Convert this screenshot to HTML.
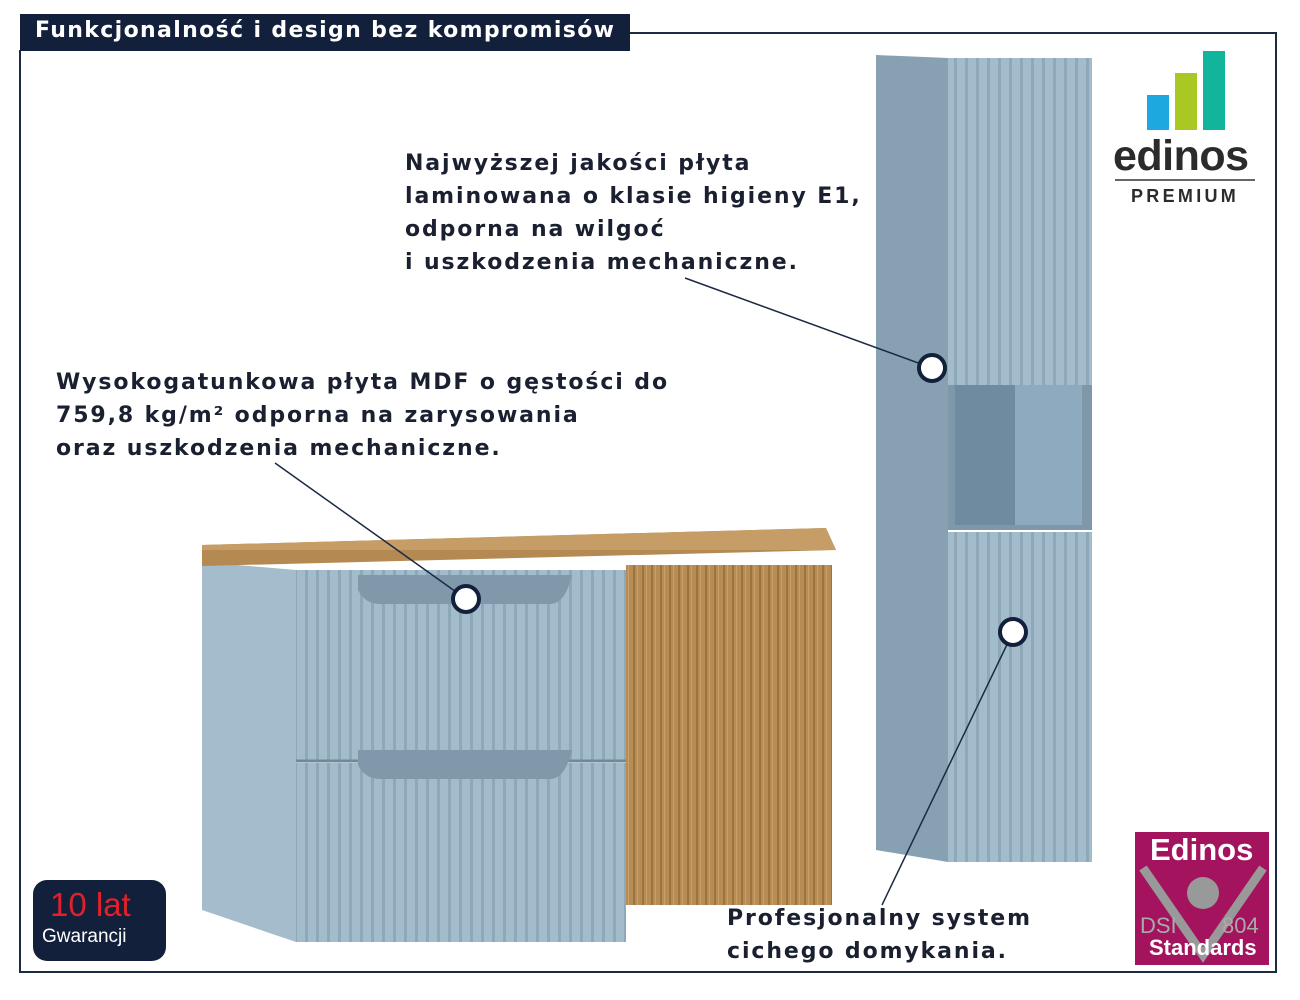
<!DOCTYPE html>
<html><head><meta charset="utf-8"><style>
body{margin:0;background:#fff;width:1300px;height:1000px;overflow:hidden;position:relative;font-family:"DejaVu Sans","Liberation Sans",sans-serif}
.t{position:absolute;font-weight:bold;color:#1a2030;font-size:22px;line-height:33px;letter-spacing:1.9px}
</style></head><body>
<svg width="1300" height="1000" style="position:absolute;left:0;top:0">
<defs>
<pattern id="fl" width="11" height="10" patternUnits="userSpaceOnUse"><rect width="11" height="10" fill="#a3bccb"/><rect x="8" width="3" height="10" fill="#8ea8b9"/></pattern>
<pattern id="wd" width="9" height="10" patternUnits="userSpaceOnUse"><rect width="9" height="10" fill="#b88d55"/><rect x="3" width="2" height="10" fill="#9c7440"/><rect x="7" width="1" height="10" fill="#c9a06a"/></pattern>
</defs>
<path d="M630 33 H1276 V972 H20 V50" fill="none" stroke="#1c2a44" stroke-width="2"/>
<rect x="20" y="14" width="610" height="37" fill="#13203b"/>
<!-- small cabinet -->
<polygon points="202,562 296,570 296,942 202,910" fill="#a4bccb"/>
<rect x="296" y="570" width="330" height="190" fill="url(#fl)"/>
<rect x="296" y="763" width="330" height="179" fill="url(#fl)"/>
<line x1="296" y1="761" x2="626" y2="761" stroke="#6f8a9c" stroke-width="3"/>
<rect x="626" y="565" width="206" height="340" fill="url(#wd)"/>
<path d="M358 590 Q365 604 380 604 H550 Q565 604 572 575 H358Z" fill="#7f99ab"/>
<path d="M358 765 Q365 779 380 779 H550 Q565 779 572 750 H358Z" fill="#7f99ab"/>
<polygon points="202,545 826,528 836,550 202,566" fill="#b58a52"/>
<polygon points="202,545 826,528 836,550 202,550" fill="#c69d66"/>
<!-- tall -->
<polygon points="876,55 948,58 948,862 876,850" fill="#87a1b3"/>
<rect x="948" y="58" width="144" height="327" fill="url(#fl)"/>
<rect x="948" y="385" width="144" height="145" fill="#7e98aa"/>
<rect x="955" y="385" width="127" height="140" fill="#6f8ba0"/>
<rect x="1015" y="385" width="67" height="140" fill="#8eaabe"/>
<rect x="948" y="532" width="144" height="330" fill="url(#fl)"/>
<!-- lines -->
<g stroke="#1c2a44" stroke-width="1.5" fill="none">
<line x1="685" y1="278" x2="932" y2="368"/>
<line x1="275" y1="463" x2="466" y2="599"/>
<line x1="1013" y1="632" x2="882" y2="905"/>
</g>
<g fill="#fff" stroke="#13203b" stroke-width="4">
<circle cx="932" cy="368" r="13"/><circle cx="466" cy="599" r="13"/><circle cx="1013" cy="632" r="13"/>
</g>
<!-- edinos logo -->
<rect x="1147" y="95" width="22" height="35" fill="#1ea8e0"/>
<rect x="1175" y="73" width="22" height="57" fill="#a9c823"/>
<rect x="1203" y="51" width="22" height="79" fill="#12b59c"/>
<line x1="1115" y1="180" x2="1255" y2="180" stroke="#333" stroke-width="1.5"/>
<!-- badges -->
<rect x="33" y="880" width="133" height="81" rx="14" fill="#13203b"/>
<rect x="1135" y="832" width="134" height="133" fill="#a3135e"/>
<polyline points="1143,868 1203,955 1263,868" fill="none" stroke="#999" stroke-width="9"/>
<circle cx="1203" cy="893" r="16" fill="#999"/>
</svg>
<div style="position:absolute;left:35px;top:18px;color:#fff;font-weight:bold;font-size:22px;letter-spacing:1.35px">Funkcjonalność i design bez kompromisów</div>
<div class="t" style="left:405px;top:147px">Najwyższej jakości płyta<br>laminowana o klasie higieny E1,<br>odporna na wilgoć<br>i uszkodzenia mechaniczne.</div>
<div class="t" style="left:56px;top:366px">Wysokogatunkowa płyta MDF o gęstości do<br>759,8 kg/m² odporna na zarysowania<br>oraz uszkodzenia mechaniczne.</div>
<div class="t" style="left:727px;top:902px">Profesjonalny system<br>cichego domykania.</div>
<div style="position:absolute;left:1113px;top:132px;font-size:43px;font-weight:bold;color:#2b2b2b;font-family:'Liberation Sans',sans-serif;letter-spacing:-0.5px">edinos</div>
<div style="position:absolute;left:1131px;top:186px;font-size:18px;color:#2b2b2b;font-weight:bold;letter-spacing:3.3px;font-family:'Liberation Sans',sans-serif">PREMIUM</div>
<div style="position:absolute;left:50px;top:886px;font-size:33px;color:#e0202a;font-family:'Liberation Sans',sans-serif">10 lat</div>
<div style="position:absolute;left:42px;top:926px;font-size:19px;color:#fff;font-family:'Liberation Sans',sans-serif">Gwarancji</div>
<div style="position:absolute;left:1150px;top:832px;font-size:31px;color:#fff;font-weight:bold;font-family:'Liberation Sans',sans-serif">Edinos</div>
<div style="position:absolute;left:1140px;top:913px;font-size:22px;color:#aaa;font-family:'Liberation Sans',sans-serif">DSI</div>
<div style="position:absolute;left:1222px;top:913px;font-size:22px;color:#aaa;font-family:'Liberation Sans',sans-serif">804</div>
<div style="position:absolute;left:1149px;top:935px;font-size:22px;color:#fff;font-weight:bold;font-family:'Liberation Sans',sans-serif">Standards</div>
</body></html>
